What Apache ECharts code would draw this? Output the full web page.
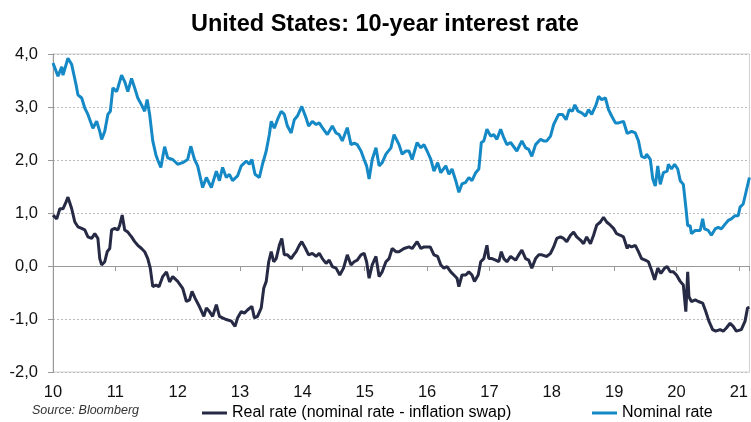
<!DOCTYPE html>
<html>
<head>
<meta charset="utf-8">
<script src="https://cdn.jsdelivr.net/npm/echarts@6/dist/echarts.min.js"></script>
<style>
  html, body { margin: 0; padding: 0; background: #fff; }
  #chart { width: 751px; height: 422px; }
</style>
</head>
<body>
<div id="chart"></div>
<script>
// nominal 10y yield (decimal year, %)
const nominalDates = [
  2010.00, 2010.08, 2010.14, 2010.16, 2010.24, 2010.30, 2010.37, 2010.40, 2010.46, 2010.51,
  2010.56, 2010.64, 2010.70, 2010.75, 2010.78, 2010.83, 2010.88, 2010.92, 2010.96, 2011.02,
  2011.04, 2011.10, 2011.15, 2011.20, 2011.26, 2011.31, 2011.36, 2011.42, 2011.47, 2011.51,
  2011.55, 2011.60, 2011.65, 2011.68, 2011.73, 2011.79, 2011.84, 2011.92, 2012.00, 2012.08,
  2012.16, 2012.21, 2012.27, 2012.32, 2012.40, 2012.46, 2012.54, 2012.62, 2012.67, 2012.72,
  2012.78, 2012.83, 2012.88, 2012.96, 2013.02, 2013.10, 2013.15, 2013.19, 2013.24, 2013.31,
  2013.36, 2013.42, 2013.47, 2013.50, 2013.55, 2013.60, 2013.66, 2013.71, 2013.76, 2013.82,
  2013.87, 2013.92, 2013.99, 2014.06, 2014.10, 2014.16, 2014.22, 2014.27, 2014.32, 2014.40,
  2014.48, 2014.54, 2014.59, 2014.64, 2014.72, 2014.78, 2014.83, 2014.88, 2014.94, 2014.99,
  2015.03, 2015.07, 2015.12, 2015.18, 2015.23, 2015.28, 2015.34, 2015.42, 2015.47, 2015.55,
  2015.60, 2015.66, 2015.71, 2015.76, 2015.84, 2015.90, 2015.95, 2016.00, 2016.06, 2016.11,
  2016.17, 2016.22, 2016.30, 2016.35, 2016.40, 2016.46, 2016.51, 2016.56, 2016.62, 2016.67,
  2016.72, 2016.78, 2016.83, 2016.87, 2016.91, 2016.96, 2017.02, 2017.07, 2017.12, 2017.18,
  2017.23, 2017.28, 2017.34, 2017.44, 2017.52, 2017.58, 2017.63, 2017.68, 2017.74, 2017.82,
  2017.87, 2017.92, 2017.98, 2018.03, 2018.11, 2018.17, 2018.23, 2018.28, 2018.33, 2018.37,
  2018.42, 2018.48, 2018.54, 2018.59, 2018.64, 2018.71, 2018.75, 2018.80, 2018.86, 2018.91,
  2018.96, 2019.02, 2019.07, 2019.15, 2019.21, 2019.28, 2019.34, 2019.39, 2019.44, 2019.50,
  2019.52, 2019.58, 2019.62, 2019.66, 2019.70, 2019.74, 2019.79, 2019.85, 2019.87, 2019.92,
  2019.97, 2020.02, 2020.06, 2020.11, 2020.15, 2020.18, 2020.22, 2020.24, 2020.30, 2020.38,
  2020.42, 2020.45, 2020.51, 2020.56, 2020.62, 2020.67, 2020.72, 2020.78, 2020.83, 2020.88,
  2020.94, 2020.99, 2021.02, 2021.07, 2021.12, 2021.17
];
const nominalRate = [
  3.83, 3.58, 3.76, 3.60, 3.92, 3.80, 3.42, 3.23, 3.17, 2.98,
  2.86, 2.60, 2.73, 2.54, 2.39, 2.54, 2.86, 2.92, 3.36, 3.29,
  3.36, 3.60, 3.48, 3.29, 3.54, 3.36, 3.17, 3.04, 2.92, 3.14,
  2.86, 2.36, 2.10, 2.00, 1.86, 2.25, 2.04, 2.01, 1.92, 1.95,
  2.01, 2.26, 2.01, 1.89, 1.48, 1.67, 1.48, 1.79, 1.61, 1.86,
  1.67, 1.73, 1.61, 1.70, 1.89, 1.98, 1.92, 2.01, 1.73, 1.67,
  1.92, 2.17, 2.48, 2.73, 2.60, 2.76, 2.92, 2.86, 2.64, 2.51,
  2.76, 2.83, 3.01, 2.79, 2.64, 2.73, 2.67, 2.70, 2.61, 2.48,
  2.64, 2.51, 2.48, 2.36, 2.61, 2.29, 2.32, 2.29, 2.17, 2.01,
  1.89, 1.64, 2.01, 2.23, 1.89, 1.95, 2.11, 2.23, 2.48, 2.29,
  2.11, 2.17, 2.17, 2.01, 2.33, 2.23, 2.29, 2.17, 2.01, 1.79,
  1.95, 1.76, 1.89, 1.73, 1.83, 1.61, 1.39, 1.55, 1.58, 1.67,
  1.61, 1.76, 1.83, 2.33, 2.36, 2.58, 2.45, 2.48, 2.39, 2.58,
  2.42, 2.29, 2.33, 2.17, 2.36, 2.23, 2.20, 2.07, 2.29, 2.39,
  2.36, 2.36, 2.45, 2.67, 2.86, 2.86, 2.76, 2.95, 2.92, 3.04,
  2.92, 2.89, 2.83, 2.95, 2.86, 3.04, 3.20, 3.14, 3.17, 2.95,
  2.83, 2.70, 2.70, 2.73, 2.50, 2.54, 2.51, 2.36, 2.07, 2.04,
  2.11, 2.01, 1.64, 1.51, 1.89, 1.54, 1.76, 1.79, 1.92, 1.83,
  1.92, 1.83, 1.61, 1.54, 1.11, 0.76, 0.76, 0.61, 0.67, 0.67,
  0.89, 0.70, 0.67, 0.58, 0.70, 0.73, 0.70, 0.79, 0.86, 0.89,
  0.95, 0.95, 1.11, 1.17, 1.42, 1.67
];

// real rate (nominal - inflation swap)
const realDates = [
  2010.00, 2010.06, 2010.11, 2010.16, 2010.21, 2010.24, 2010.30, 2010.35, 2010.40, 2010.46,
  2010.51, 2010.56, 2010.62, 2010.67, 2010.72, 2010.75, 2010.78, 2010.83, 2010.87, 2010.91,
  2010.94, 2010.99, 2011.04, 2011.07, 2011.11, 2011.15, 2011.20, 2011.26, 2011.31, 2011.36,
  2011.42, 2011.47, 2011.52, 2011.56, 2011.60, 2011.65, 2011.70, 2011.76, 2011.82, 2011.87,
  2011.92, 2012.00, 2012.08, 2012.14, 2012.19, 2012.23, 2012.28, 2012.35, 2012.42, 2012.46,
  2012.51, 2012.56, 2012.62, 2012.67, 2012.72, 2012.78, 2012.86, 2012.92, 2012.96, 2013.02,
  2013.07, 2013.12, 2013.19, 2013.23, 2013.28, 2013.34, 2013.38, 2013.42, 2013.46, 2013.50,
  2013.54, 2013.58, 2013.63, 2013.67, 2013.71, 2013.76, 2013.82, 2013.86, 2013.90, 2013.95,
  2013.99, 2014.05, 2014.10, 2014.16, 2014.22, 2014.27, 2014.32, 2014.38, 2014.43, 2014.48,
  2014.54, 2014.60, 2014.66, 2014.72, 2014.78, 2014.83, 2014.88, 2014.94, 2014.99, 2015.03,
  2015.07, 2015.12, 2015.18, 2015.23, 2015.28, 2015.34, 2015.39, 2015.44, 2015.50, 2015.55,
  2015.63, 2015.71, 2015.76, 2015.84, 2015.90, 2015.95, 2016.00, 2016.05, 2016.11, 2016.17,
  2016.22, 2016.27, 2016.32, 2016.38, 2016.43, 2016.48, 2016.51, 2016.56, 2016.62, 2016.67,
  2016.72, 2016.76, 2016.82, 2016.86, 2016.91, 2016.96, 2016.99, 2017.04, 2017.10, 2017.15,
  2017.19, 2017.23, 2017.28, 2017.34, 2017.42, 2017.47, 2017.52, 2017.58, 2017.63, 2017.68,
  2017.74, 2017.79, 2017.84, 2017.92, 2017.98, 2018.03, 2018.08, 2018.14, 2018.19, 2018.24,
  2018.30, 2018.35, 2018.40, 2018.46, 2018.51, 2018.56, 2018.62, 2018.67, 2018.72, 2018.78,
  2018.83, 2018.88, 2018.94, 2018.99, 2019.04, 2019.10, 2019.15, 2019.21, 2019.23, 2019.28,
  2019.34, 2019.39, 2019.44, 2019.50, 2019.55, 2019.60, 2019.65, 2019.70, 2019.75, 2019.81,
  2019.85, 2019.90, 2019.95, 2020.00, 2020.06, 2020.11, 2020.15, 2020.18, 2020.20, 2020.24,
  2020.30, 2020.35, 2020.42, 2020.47, 2020.52, 2020.58, 2020.63, 2020.70, 2020.75, 2020.80,
  2020.86, 2020.91, 2020.96, 2021.04, 2021.10, 2021.14, 2021.17
];
const realRate = [
  0.96, 0.89, 1.08, 1.08, 1.21, 1.30, 1.08, 0.83, 0.74, 0.71,
  0.68, 0.55, 0.52, 0.61, 0.52, 0.14, 0.02, 0.08, 0.27, 0.33,
  0.68, 0.71, 0.68, 0.77, 0.96, 0.68, 0.64, 0.55, 0.46, 0.39,
  0.33, 0.27, 0.14, -0.04, -0.39, -0.36, -0.39, -0.20, -0.11, -0.30,
  -0.20, -0.29, -0.42, -0.67, -0.64, -0.48, -0.61, -0.77, -0.95, -0.79,
  -0.86, -0.95, -0.73, -0.95, -0.98, -1.01, -1.04, -1.14, -0.98, -0.86,
  -0.89, -0.83, -0.76, -0.98, -0.95, -0.79, -0.42, -0.29, 0.08, 0.27,
  0.08, 0.14, 0.39, 0.52, 0.21, 0.21, 0.14, 0.21, 0.27, 0.39,
  0.46, 0.33, 0.21, 0.24, 0.18, 0.24, 0.14, 0.05, 0.11, -0.01,
  -0.04, -0.17, -0.04, 0.21, 0.02, 0.08, 0.11, 0.21, 0.24, 0.08,
  -0.23, 0.02, 0.18, -0.20, -0.11, 0.08, 0.14, 0.33, 0.27, 0.27,
  0.33, 0.36, 0.33, 0.46, 0.33, 0.36, 0.36, 0.36, 0.21, 0.18,
  0.02, -0.04, -0.01, -0.11, -0.17, -0.23, -0.39, -0.17, -0.17, -0.11,
  -0.17, -0.29, -0.17, 0.08, 0.14, 0.39, 0.14, 0.14, 0.11, 0.08,
  0.27, 0.14, 0.08, 0.18, 0.11, 0.21, 0.30, 0.14, 0.11, -0.04,
  0.14, 0.21, 0.21, 0.18, 0.24, 0.36, 0.52, 0.55, 0.52, 0.46,
  0.58, 0.64, 0.55, 0.49, 0.42, 0.55, 0.42, 0.58, 0.77, 0.83,
  0.92, 0.83, 0.77, 0.71, 0.61, 0.58, 0.55, 0.33, 0.39, 0.36,
  0.39, 0.27, 0.14, 0.11, 0.08, -0.08, -0.26, -0.04, -0.14, -0.04,
  -0.01, -0.11, -0.11, -0.17, -0.29, -0.36, -0.86, -0.11, -0.58, -0.67,
  -0.64, -0.67, -0.70, -0.86, -1.04, -1.20, -1.23, -1.20, -1.23, -1.17,
  -1.08, -1.14, -1.23, -1.20, -1.04, -0.79, -0.78
];

const yTicks = [-2, -1, 0, 1, 2, 3, 4];
const xStart = 2010;
const xEnd = 2021.17;

const NAVY = "#262a44";
const BLUE = "#1589c6";
const FONT = "Liberation Sans, Arial, sans-serif";

const chart = echarts.init(document.getElementById("chart"));

const yearLabel = v => (Math.abs(v - Math.round(v)) < 1e-6 ? String(Math.round(v) % 100) : "");

const option = {
  animation: false,
  backgroundColor: "#fff",
  title: {
    text: "United States: 10-year interest rate",
    left: 186,
    top: 8,
    textStyle: { fontFamily: FONT, fontSize: 23.5, fontWeight: "bold", color: "#000" }
  },
  grid: {
    left: 53,
    right: 0,
    top: 54,
    bottom: 50,
    show: true,
    borderColor: "#d0d0d0",
    borderWidth: 1
  },
  legend: [
    {
      data: ["Real rate (nominal rate - inflation swap)"],
      left: 202,
      top: 405,
      padding: 0,
      icon: "rect",
      itemWidth: 25,
      itemHeight: 3,
      itemGap: 6,
      textStyle: { fontFamily: FONT, fontSize: 16, color: "#000" }
    },
    {
      data: ["Nominal rate"],
      left: 592,
      top: 405,
      padding: 0,
      icon: "rect",
      itemWidth: 25,
      itemHeight: 3,
      textStyle: { fontFamily: FONT, fontSize: 16, color: "#000" }
    }
  ],
  graphic: [
    {
      type: "text",
      left: 32,
      top: 404,
      style: {
        text: "Source: Bloomberg",
        font: "italic 12.5px 'Liberation Sans', Arial, sans-serif",
        fill: "#333"
      }
    }
  ],
  xAxis: [
    {
      type: "value",
      min: xStart,
      max: xEnd,
      interval: 1,
      axisLine: { show: false, onZero: false },
      axisTick: { show: false },
      splitLine: { show: false },
      axisLabel: {
        formatter: yearLabel,
        margin: 12,
        showMaxLabel: false,
        fontFamily: FONT,
        fontSize: 16.5,
        color: "#111"
      }
    },
    {
      type: "value",
      position: "bottom",
      min: xStart,
      max: xEnd,
      interval: 1,
      axisLine: { show: true, onZero: true, lineStyle: { color: "#999", width: 1 } },
      axisTick: { show: true, length: 5, lineStyle: { color: "#999" } },
      splitLine: { show: false },
      axisLabel: { show: false }
    }
  ],
  yAxis: {
    type: "value",
    min: yTicks[0],
    max: yTicks[yTicks.length - 1],
    interval: 1,
    axisLine: { show: true, onZero: false, lineStyle: { color: "#999" } },
    axisTick: { show: true, length: 5, lineStyle: { color: "#999" } },
    splitLine: { show: true, lineStyle: { color: "#bbb", type: [2, 2], width: 1 } },
    axisLabel: {
      formatter: v => v.toFixed(1).replace(".", ","),
      margin: 15,
      fontFamily: FONT,
      fontSize: 16.5,
      color: "#111"
    }
  },
  series: [
    {
      name: "Real rate (nominal rate - inflation swap)",
      type: "line",
      xAxisIndex: 0,
      showSymbol: false,
      symbol: "none",
      color: NAVY,
      lineStyle: { width: 3, color: NAVY },
      data: realDates.map((d, i) => [d, realRate[i]])
    },
    {
      name: "Nominal rate",
      type: "line",
      xAxisIndex: 0,
      showSymbol: false,
      symbol: "none",
      color: BLUE,
      lineStyle: { width: 3, color: BLUE },
      data: nominalDates.map((d, i) => [d, nominalRate[i]])
    }
  ]
};

chart.setOption(option);
</script>
</body>
</html>
